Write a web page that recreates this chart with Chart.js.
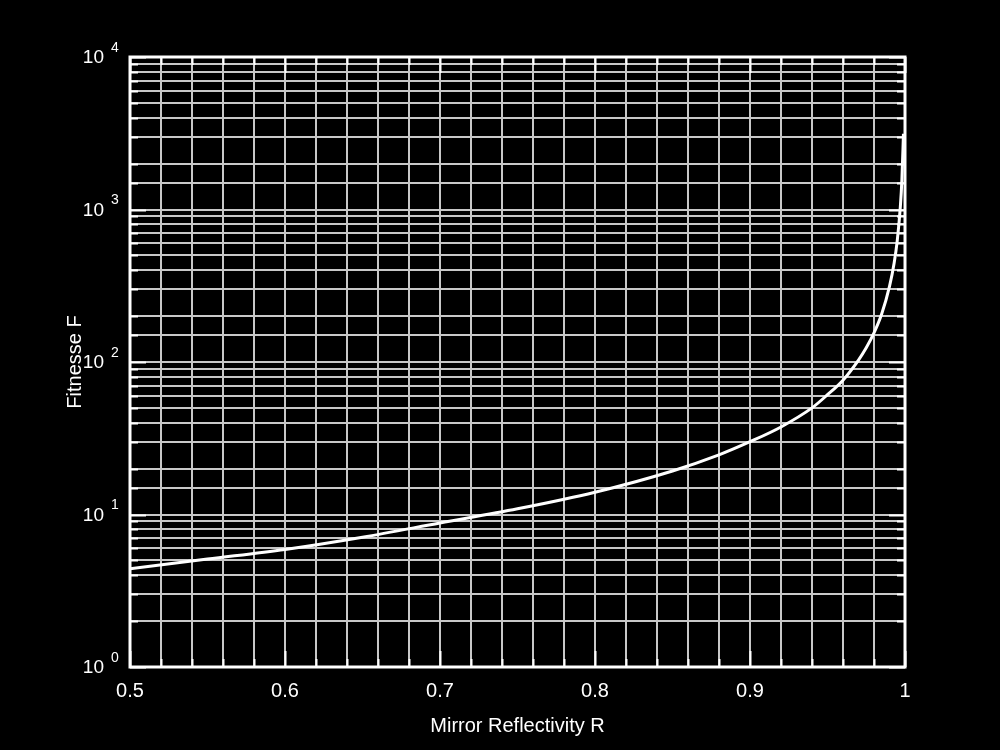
<!DOCTYPE html>
<html>
<head>
<meta charset="utf-8">
<script src="https://cdn.jsdelivr.net/npm/chart.js@4"></script>
<style>
  html, body { margin: 0; padding: 0; background: #000; }
  #wrap { width: 1000px; height: 750px; }
</style>
</head>
<body>
<div id="wrap"><canvas id="chart" width="1000" height="750"></canvas></div>
<script>
// Mirror reflectivity vs. finesse
const reflectivity = [0.5, 0.55, 0.6, 0.65, 0.7, 0.75, 0.8, 0.85, 0.88, 0.9, 0.92, 0.94, 0.95,
                      0.96, 0.97, 0.975, 0.98, 0.985, 0.99, 0.993, 0.995, 0.997, 0.998, 0.999];
const finesse = [4.4, 5.1, 5.9, 7.1, 8.8, 10.9, 14, 19.3, 24.6, 30, 37.5, 50, 61,
                 76, 103, 124, 155, 207, 313, 446, 625, 1045, 1570, 3140];
const xTickLabels = ["0.5", "0.6", "0.7", "0.8", "0.9", "1"];
const yDecades = [0, 1, 2, 3, 4];
const xTitle = "Mirror Reflectivity R";
const yTitle = "Fitnesse F";

const FONT = "'Liberation Sans', Arial, sans-serif";

// tick marks inside the frame, decade labels with superscript, axis titles
const decorPlugin = {
    id: "decor",
    afterDraw(chart) {
        const ctx = chart.ctx;
        const area = chart.chartArea;
        const xs = chart.scales.x;
        const ys = chart.scales.y;
        ctx.save();
        ctx.strokeStyle = "#ffffff";
        ctx.lineWidth = 2;

        // y ticks (left and right)
        ys.ticks.forEach(t => {
            const y = Math.round(ys.getPixelForValue(t.value)) + 0.5;
            const len = t.major ? 16 : 8;
            ctx.beginPath();
            ctx.moveTo(area.left, y); ctx.lineTo(area.left + len, y);
            ctx.moveTo(area.right, y); ctx.lineTo(area.right - len, y);
            ctx.stroke();
        });
        // x ticks (bottom and top)
        xs.ticks.forEach(t => {
            const x = Math.round(xs.getPixelForValue(t.value)) + 0.5;
            const major = Math.abs(t.value * 10 - Math.round(t.value * 10)) < 1e-6;
            const len = major ? 16 : 8;
            ctx.beginPath();
            ctx.moveTo(x, area.bottom); ctx.lineTo(x, area.bottom - len);
            ctx.moveTo(x, area.top); ctx.lineTo(x, area.top + len);
            ctx.stroke();
        });

        // frame
        ctx.lineWidth = 3;
        ctx.strokeRect(area.left, area.top, area.right - area.left, area.bottom - area.top);

        ctx.fillStyle = "#ffffff";
        // y labels: 10 with exponent
        yDecades.forEach(d => {
            const y = ys.getPixelForValue(Math.pow(10, d));
            ctx.font = "19px " + FONT;
            ctx.textAlign = "right";
            ctx.textBaseline = "middle";
            ctx.fillText("10", 104, y + 1);
            ctx.font = "14px " + FONT;
            ctx.textAlign = "left";
            ctx.fillText(String(d), 111, y - 9);
        });

        // axis titles
        ctx.font = "20px " + FONT;
        ctx.textAlign = "center";
        ctx.textBaseline = "middle";
        ctx.fillText(xTitle, (area.left + area.right) / 2 , 726);
        ctx.translate(75, (area.top + area.bottom) / 2);
        ctx.rotate(-Math.PI / 2);
        ctx.fillText(yTitle, 0, 0);
        ctx.restore();
    }
};

new Chart(document.getElementById("chart"), {
    type: "line",
    data: {
        datasets: [{
            label: "Finesse",
            data: reflectivity.map((r, i) => ({ x: r, y: finesse[i] })),
            borderColor: "#ffffff",
            borderWidth: 3,
            pointRadius: 0,
            fill: false,
            cubicInterpolationMode: "monotone",
        }],
    },
    options: {
        responsive: false,
        animation: false,
        layout: { padding: { left: 130, right: 95, top: 57, bottom: 0 } },
        scales: {
            x: {
                type: "linear",
                min: 0.5,
                max: 1,
                border: { display: false },
                grid: { color: "#c8c8c8", lineWidth: 2, drawTicks: false },
                ticks: {
                    stepSize: 0.02,
                    autoSkip: false,
                    maxRotation: 0,
                    padding: 12,
                    color: "#ffffff",
                    font: { family: FONT, size: 20 },
                    callback: v => {
                        const k = Math.round(v * 10);
                        if (Math.abs(v * 10 - k) > 1e-6) return "";
                        return xTickLabels[k - 5];
                    },
                },
                afterFit: s => { s.height = 83; },
            },
            y: {
                type: "logarithmic",
                min: 1,
                max: 10000,
                border: { display: false },
                grid: { color: "#c8c8c8", lineWidth: 2, drawTicks: false },
                ticks: { display: false, autoSkip: false },
                afterFit: s => { s.width = 0; },
            },
        },
        plugins: {
            legend: { display: false },
            tooltip: { enabled: false },
        },
    },
    plugins: [decorPlugin],
});
</script>
</body>
</html>
